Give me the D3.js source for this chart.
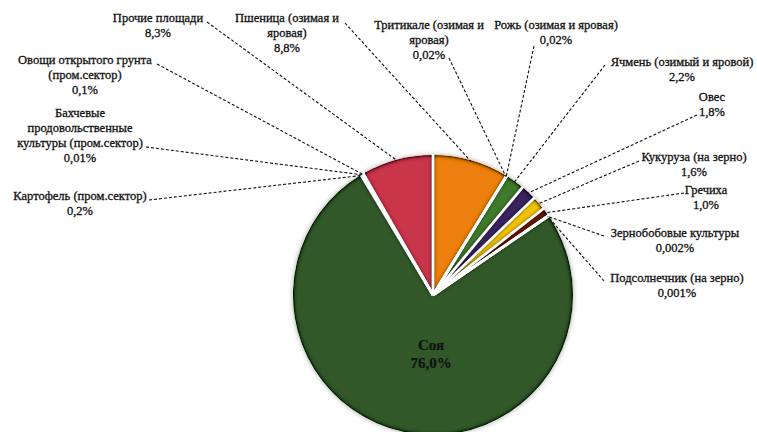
<!DOCTYPE html>
<html>
<head>
<meta charset="utf-8">
<script src="https://cdn.jsdelivr.net/npm/d3@7"></script>
<style>
  html, body { margin: 0; padding: 0; background: #fff; }
  svg { display: block; }
</style>
</head>
<body>
<svg id="chart" width="757" height="432"></svg>
<script>
// Структура посевных площадей, %
const categories = [
  "Пшеница (озимая и яровая)",
  "Тритикале (озимая и яровая)",
  "Рожь (озимая и яровая)",
  "Ячмень (озимый и яровой)",
  "Овес",
  "Кукуруза (на зерно)",
  "Гречиха",
  "Зернобобовые культуры",
  "Подсолнечник (на зерно)",
  "Соя",
  "Картофель (пром.сектор)",
  "Бахчевые продовольственные культуры (пром.сектор)",
  "Овощи открытого грунта (пром.сектор)",
  "Прочие площади"
];
const values = [8.8, 0.02, 0.02, 2.2, 1.8, 1.6, 1.0, 0.002, 0.001, 76.0, 0.2, 0.01, 0.1, 8.3];
const decimals = [1, 2, 2, 1, 1, 1, 1, 3, 3, 1, 1, 2, 1, 1];

// Label text broken into lines as printed next to the pie
const nameLines = [
  ["Пшеница (озимая и", "яровая)"],
  ["Тритикале (озимая и", "яровая)"],
  ["Рожь (озимая и яровая)"],
  ["Ячмень (озимый и яровой)"],
  ["Овес"],
  ["Кукуруза  (на зерно)"],
  ["Гречиха"],
  ["Зернобобовые культуры"],
  ["Подсолнечник (на зерно)"],
  ["Соя"],
  ["Картофель (пром.сектор)"],
  ["Бахчевые", "продовольственные", "культуры  (пром.сектор)"],
  ["Овощи открытого грунта", "(пром.сектор)"],
  ["Прочие площади"]
];

const colors = ["#ec7f0c", "#8a9a5b", "#6b8e3a", "#3f7a2f", "#3a2560", "#f3c300",
                "#6a1c10", "#7a4a2a", "#9b6b3a", "#33592a", "#a0a0a0", "#6f8f4f", "#4f7f3f", "#c93649"];

// Label layout: centre x, first-line y, leader start point
const labelLayout = [
  {x: 287, y: 18, lx: 345, ly: 23},
  {x: 429, y: 25, lx: 449, ly: 58},
  {x: 556, y: 25, lx: 534, ly: 46},
  {x: 682, y: 62, lx: 605, ly: 65},
  {x: 712, y: 97, lx: 697, ly: 115},
  {x: 694, y: 157, lx: 639, ly: 161},
  {x: 706, y: 190, lx: 684, ly: 193},
  {x: 675, y: 233, lx: 604, ly: 236},
  {x: 677, y: 278, lx: 604, ly: 281},
  {x: 431, y: 345, inside: true},
  {x: 80, y: 196, lx: 149, ly: 200},
  {x: 80, y: 113, lx: 146, ly: 147},
  {x: 85, y: 60, lx: 157, ly: 64},
  {x: 158, y: 18, lx: 207, ly: 22}
];

const fontFamily = "'Liberation Serif', 'DejaVu Serif', 'Times New Roman', serif";
const cx = 433, cy = 295, radius = 140, lineH = 15;
const svg = d3.select("#chart");

// Inner shading along each wedge's edges
const defs = svg.append("defs");
const f = defs.append("filter").attr("id", "innerShade")
  .attr("x", "-10%").attr("y", "-10%").attr("width", "120%").attr("height", "120%");
f.append("feGaussianBlur").attr("in", "SourceAlpha").attr("stdDeviation", 2.2).attr("result", "blur");
f.append("feComposite").attr("in", "SourceAlpha").attr("in2", "blur")
  .attr("operator", "arithmetic").attr("k2", 2.5).attr("k3", -2.5).attr("result", "edge");
f.append("feFlood").attr("flood-color", "#000").attr("flood-opacity", 0.9);
f.append("feComposite").attr("in2", "edge").attr("operator", "in").attr("result", "shadow");
const m = f.append("feMerge");
m.append("feMergeNode").attr("in", "SourceGraphic");
m.append("feMergeNode").attr("in", "shadow");

const soft = defs.append("filter").attr("id", "outerGlow")
  .attr("x", "-10%").attr("y", "-10%").attr("width", "120%").attr("height", "120%");
soft.append("feGaussianBlur").attr("in", "SourceAlpha").attr("stdDeviation", 2);

const pie = d3.pie().sort(null).value(d => d);
const arcs = pie(values);
const arc = d3.arc().innerRadius(0).outerRadius(radius);

const g = svg.append("g").attr("transform", `translate(${cx},${cy})`);

// faint halo around the pie
g.append("circle").attr("r", radius + 1).attr("fill", "#000").attr("opacity", 0.25)
  .attr("filter", "url(#outerGlow)");

g.selectAll("path.slice")
  .data(arcs)
  .join("path")
  .attr("class", "slice")
  .attr("d", arc)
  .attr("fill", (d, i) => colors[i])
  .attr("filter", "url(#innerShade)");

// white radial separators between wedges
g.selectAll("line.sep")
  .data(arcs)
  .join("line")
  .attr("class", "sep")
  .attr("x1", 0).attr("y1", 0)
  .attr("x2", d => (radius + 1) * Math.sin(d.startAngle))
  .attr("y2", d => -(radius + 1) * Math.cos(d.startAngle))
  .attr("stroke", "#fff")
  .attr("stroke-width", 2.8);

const fmt = (v, k) => d3.format(`.${k}f`)(v).replace(".", ",") + "%";

// Leader lines from each label to the middle of its wedge's outer arc
const leaders = svg.append("g");
arcs.forEach((d, i) => {
  const L = labelLayout[i];
  if (L.inside) return;
  const a = (d.startAngle + d.endAngle) / 2;
  const ex = cx + (radius - 1) * Math.sin(a);
  const ey = cy - (radius - 1) * Math.cos(a);
  leaders.append("line")
    .attr("x1", L.lx).attr("y1", L.ly)
    .attr("x2", ex).attr("y2", ey)
    .attr("stroke", "#111")
    .attr("stroke-width", 1.1)
    .attr("stroke-dasharray", "3,2");
});

// Labels
const labels = svg.append("g");
values.forEach((v, i) => {
  const L = labelLayout[i];
  const lines = nameLines[i].concat([fmt(v, decimals[i])]);
  const t = labels.append("text")
    .attr("text-anchor", "middle")
    .attr("font-family", fontFamily)
    .attr("fill", "#111")
    .attr("stroke", "#111")
    .attr("stroke-width", L.inside ? 0.2 : 0.3)
    .attr("font-size", L.inside ? 15 : 12.5)
    .attr("font-weight", L.inside ? "bold" : "normal");
  lines.forEach((s, j) => {
    t.append("tspan")
      .attr("x", L.x)
      .attr("y", L.y + j * (L.inside ? 18 : lineH))
      .attr("dy", "0.35em")
      .text(s);
  });
});
</script>
</body>
</html>
